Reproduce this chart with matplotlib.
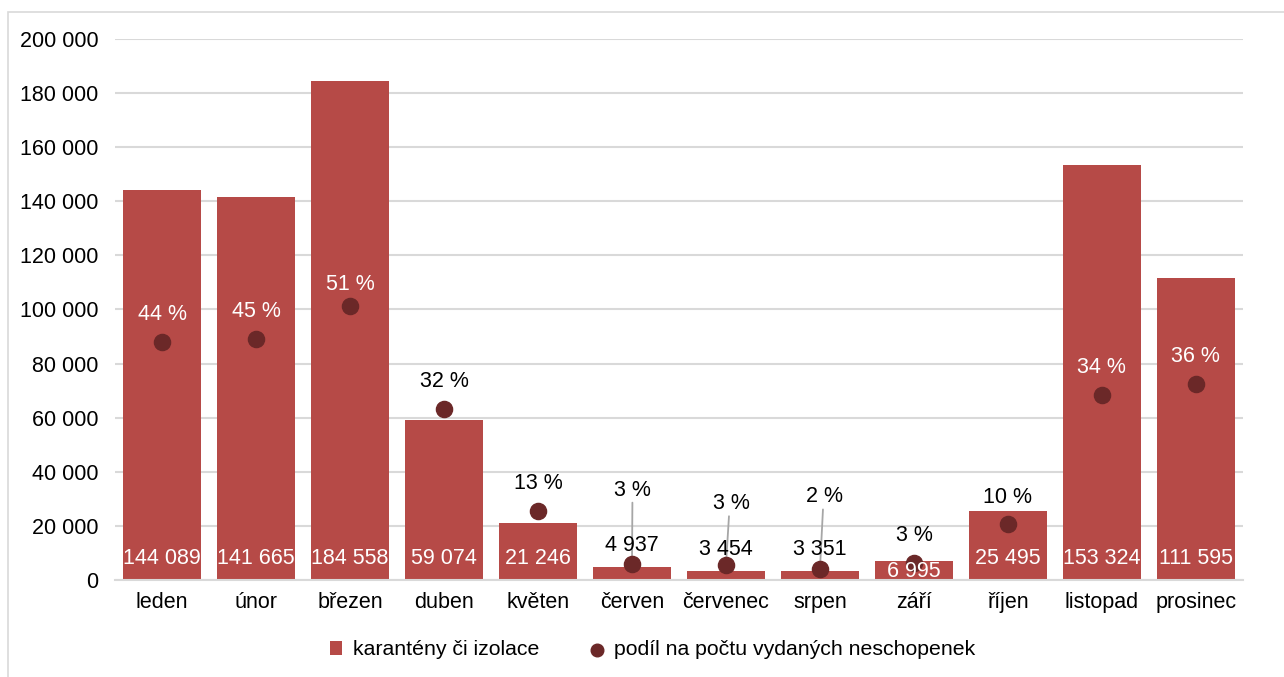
import matplotlib.pyplot as plt
from matplotlib.patches import Rectangle

plt.rcParams['font.family'] = ['Liberation Sans', 'DejaVu Sans']

months = ['leden', 'únor', 'březen', 'duben', 'květen', 'červen', 'červenec',
          'srpen', 'září', 'říjen', 'listopad', 'prosinec']
cases = [144089, 141665, 184558, 59074, 21246, 4937, 3454, 3351, 6995, 25495, 153324, 111595]
share = [44.0, 44.6, 50.6, 31.6, 12.8, 3.0, 2.8, 2.0, 3.2, 10.3, 34.2, 36.2]

bar_col = '#B64A47'
dot_col = '#6B2828'
grid_col = '#D9D9D9'

fig = plt.figure(figsize=(12.84, 6.77), dpi=100)
ax = fig.add_axes([0.0896, 0.1433, 0.8784, 0.7991])
ax2 = ax.twinx()

x = list(range(len(months)))
ax.bar(x, cases, width=0.83, color=bar_col, zorder=2, label='karantény či izolace')
ax.set_ylim(0, 200000)
ax.set_xlim(-0.5, len(months) - 0.5)
ax.set_yticks(range(0, 200001, 20000))
ax.set_yticklabels([f"{v:,}".replace(",", " ") for v in range(0, 200001, 20000)])
ax.set_xticks(x)
ax.set_xticklabels(months)
ax.tick_params(axis='both', length=0, labelsize=15.5, colors='black')
ax.tick_params(axis='y', pad=12)
ax.tick_params(axis='x', pad=9)
ax.grid(axis='y', color=grid_col, lw=1.5, zorder=0)
ax.set_axisbelow(True)
for s in ['top', 'right', 'left']:
    ax.spines[s].set_visible(False)
ax.spines['bottom'].set_color(grid_col)
ax.spines['bottom'].set_linewidth(1.5)

ax2.set_ylim(0, 100)
ax2.set_axis_off()
ax2.scatter(x, share, s=135, color=dot_col, zorder=3, label='podíl na počtu vydaných neschopenek')

# bar value labels (drawn on ax2 so they sit above the dots)
for i, v in enumerate(cases):
    txt = f"{v:,}".replace(",", " ")
    if v > 10000:
        ax2.annotate(txt, (i, 0), xycoords=ax.transData, xytext=(0, 15.3), textcoords='offset points',
                     ha='center', va='center', color='white', fontsize=15.5, zorder=4)
    elif v > 6000:
        ax2.annotate(txt, (i, 0), xycoords=ax.transData, xytext=(0, 6.0), textcoords='offset points',
                     ha='center', va='center', color='white', fontsize=15.5, zorder=4)
    else:
        ax2.annotate(txt, (i, v), xycoords=ax.transData, xytext=(0, 15.5), textcoords='offset points',
                     ha='center', va='center', color='black', fontsize=15.5, zorder=4)

# percent labels
leader = {5: (0.5, 53), 6: (3.6, 44), 7: (3.6, 52)}
white_pct = {0, 1, 2, 10, 11}
for i, p in enumerate(share):
    txt = f"{round(p)} %"
    col = 'white' if i in white_pct else 'black'
    if i in leader:
        dx, dy = leader[i]
        ax2.annotate(txt, (i, p), xytext=(dx, dy), textcoords='offset points',
                     ha='center', va='center', color=col, fontsize=15.5, zorder=5)
        ax2.annotate('', (i, p), xytext=(dx * 0.6, dy - 9), textcoords='offset points',
                     arrowprops=dict(arrowstyle='-', color='#A6A6A6', lw=1.3,
                                     shrinkA=0, shrinkB=0), zorder=2)
    else:
        dy = 16.0 if i == 2 else 19.6
        ax2.annotate(txt, (i, p), xytext=(0, dy), textcoords='offset points',
                     ha='center', va='center', color=col, fontsize=15.5, zorder=5)

h1, l1 = ax.get_legend_handles_labels()
h2, l2 = ax2.get_legend_handles_labels()
fig.legend(h1 + h2, l1 + l2, loc='center', bbox_to_anchor=(0.508, 0.04), ncol=2,
           frameon=False, fontsize=15.3, handlelength=0.6, handletextpad=0.5,
           columnspacing=2.4, markerscale=0.78)

fig.add_artist(Rectangle((8 / 1284, -0.01), 1.1, 1 - 12 / 677 + 0.01, transform=fig.transFigure,
                         fill=False, edgecolor=grid_col, lw=1.2))

fig.savefig('out.png', dpi=100)
